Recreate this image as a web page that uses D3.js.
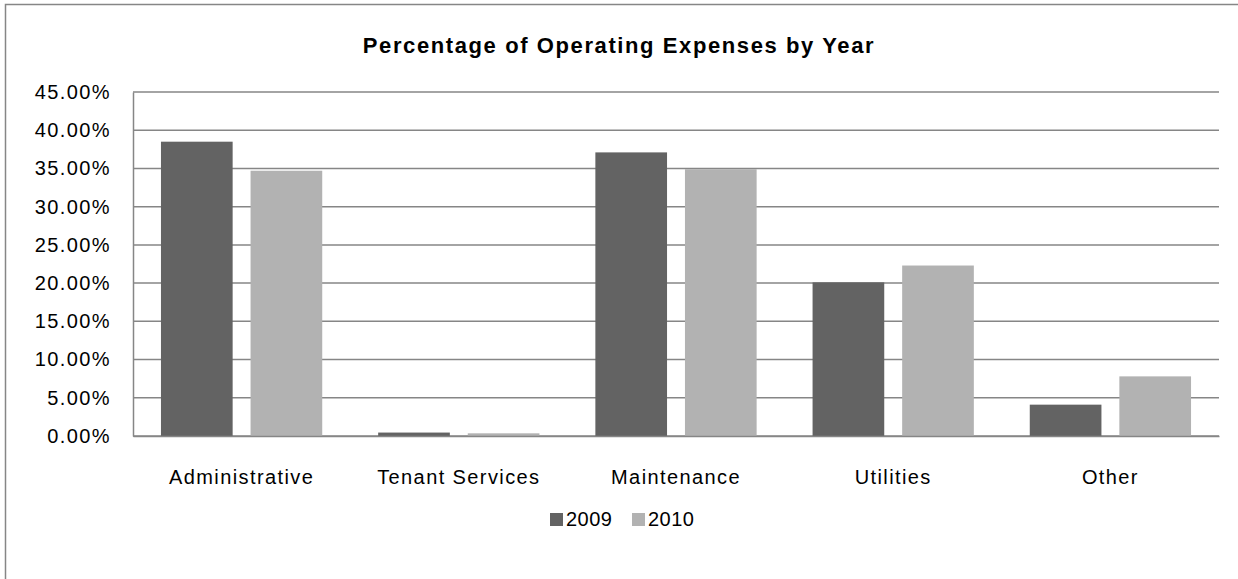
<!DOCTYPE html>
<html>
<head>
<meta charset="utf-8">
<script src="https://cdn.jsdelivr.net/npm/d3@7/dist/d3.min.js"></script>
<style>
	body { margin: 0; background: #fff; }
	text { font-family: "Liberation Sans", Arial, sans-serif; fill: #000; }
</style>
</head>
<body>
<div id="charts"></div>
<script>
var categories = ["Administrative", "Tenant Services", "Maintenance", "Utilities", "Other"];
var years = ["2009", "2010"];
var values2009 = [38.5, 0.45, 37.1, 20.1, 4.1];
var values2010 = [34.7, 0.35, 34.9, 22.3, 7.8];
var yTicks = [0, 5, 10, 15, 20, 25, 30, 35, 40, 45];
var colors = ["#636363", "#b2b2b2"];

var width = 1238, height = 579;
var plot = { left: 133, top: 92, right: 1219, bottom: 436 };

var svg = d3.select("#charts")
	.append("svg")
	.attr("width", width)
	.attr("height", height);

// chart area frame
svg.append("rect")
	.attr("x", 5.5)
	.attr("y", 4.5)
	.attr("width", width)
	.attr("height", height)
	.attr("fill", "#fff")
	.attr("stroke", "#868686")
	.attr("stroke-width", 1.5);

svg.append("text")
	.attr("x", 619)
	.attr("y", 53)
	.attr("text-anchor", "middle")
	.attr("font-size", "22px")
	.attr("font-weight", "bold")
	.attr("letter-spacing", "1.6px")
	.text("Percentage of Operating Expenses by Year");

var x = d3.scaleBand()
	.domain(categories)
	.range([plot.left, plot.right]);

var y = d3.scaleLinear()
	.domain([0, 45])
	.range([plot.bottom, plot.top]);

// gridlines
svg.append("g")
	.selectAll("line")
	.data(yTicks)
	.enter()
	.append("line")
	.attr("x1", plot.left)
	.attr("x2", plot.right)
	.attr("y1", function (d) { return y(d); })
	.attr("y2", function (d) { return y(d); })
	.attr("stroke", "#868686")
	.attr("stroke-width", 1.5);

var yAxis = svg.append("g")
	.attr("transform", "translate(" + plot.left + ",0)")
	.call(d3.axisLeft(y)
		.tickValues(yTicks)
		.tickSize(0)
		.tickPadding(22)
		.tickFormat(function (d) { return d.toFixed(2) + "%"; }));
yAxis.select(".domain").attr("stroke", "#868686").attr("stroke-width", 1.5);
yAxis.selectAll("text")
	.attr("font-size", "20px")
	.attr("letter-spacing", "1.4px")
	.attr("font-family", "Liberation Sans, Arial, sans-serif")
	.attr("fill", "#000");

// bars
var barW = x.bandwidth() * 0.33;
var gap = barW * 0.25;
var series = [values2009, values2010];

series.forEach(function (vals, s) {
	svg.append("g")
		.selectAll("rect")
		.data(vals)
		.enter()
		.append("rect")
		.attr("x", function (d, i) {
			var c = x(categories[i]) + x.bandwidth() / 2;
			return s === 0 ? c - gap / 2 - barW : c + gap / 2;
		})
		.attr("y", function (d) { return y(d); })
		.attr("width", barW)
		.attr("height", function (d) { return plot.bottom - y(d); })
		.attr("fill", colors[s]);
});

// x axis
var xAxis = svg.append("g")
	.attr("transform", "translate(0," + plot.bottom + ")")
	.call(d3.axisBottom(x).tickSize(0).tickPadding(34));
xAxis.select(".domain").attr("stroke", "#868686").attr("stroke-width", 1.5);
xAxis.selectAll("text")
	.attr("font-size", "20px")
	.attr("letter-spacing", "1.4px")
	.attr("font-family", "Liberation Sans, Arial, sans-serif")
	.attr("fill", "#000");

// legend
var legend = svg.append("g")
	.selectAll("g")
	.data(years)
	.enter()
	.append("g")
	.attr("transform", function (d, i) {
		return "translate(" + (550 + i * 82) + ",513)";
	});
legend.append("rect")
	.attr("width", 13)
	.attr("height", 13)
	.attr("fill", function (d, i) { return colors[i]; });
legend.append("text")
	.attr("x", 16)
	.attr("y", 13)
	.attr("font-size", "20px")
	.attr("letter-spacing", "0.5px")
	.text(function (d) { return d; });
</script>
</body>
</html>
